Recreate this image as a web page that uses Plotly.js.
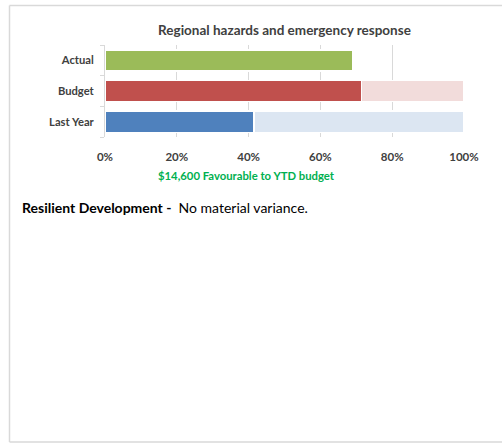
<!DOCTYPE html>
<html>
<head>
<meta charset="utf-8">
<script src="https://cdn.plot.ly/plotly-3.0.1.min.js"></script>
<style>
html,body{margin:0;padding:0;background:#fff;}
#chart{width:502px;height:444px;}
</style>
</head>
<body>
<div id="chart"></div>
<script>
// Data
const categories = ["Last Year", "Budget", "Actual"];
const filledValues = [41.5, 71.5, 69];
const remainderValues = [58.5, 28.5, 0];
const filledColors = ["#4F81BD", "#C0504D", "#9BBB59"];
const remainderColors = ["#DCE6F2", "#F2DCDB", "#FFFFFF"];
const xTickVals = [0, 20, 40, 60, 80, 100];
const xTickText = ["0%", "20%", "40%", "60%", "80%", "100%"];
const chartTitle = "Regional hazards and emergency response";
const varianceNote = "$14,600 Favourable to YTD budget";
const commentBold = "Resilient Development -";
const commentText = "No material variance.";

const W = 502, H = 444;
const M = {l: 105, r: 38, t: 45, b: 307};
const pw = W - M.l - M.r, ph = H - M.t - M.b;
const px = x => (x - M.l) / pw;
const py = y => (H - M.b - y) / ph;

const font = "Lato, 'Open Sans', sans-serif";

const traces = [
  {
    type: "bar", orientation: "h", y: categories, x: filledValues,
    marker: {color: filledColors, line: {color: "#FFFFFF", width: 1.5}},
    hoverinfo: "skip", showlegend: false
  },
  {
    type: "bar", orientation: "h", y: categories, x: remainderValues,
    marker: {color: remainderColors, line: {color: "#FFFFFF", width: 1.5}},
    hoverinfo: "skip", showlegend: false
  }
];

const grey = "#D9D9D9";
const layout = {
  width: W, height: H,
  margin: M,
  paper_bgcolor: "#FFFFFF", plot_bgcolor: "#FFFFFF",
  barmode: "stack", bargap: 0.31,
  showlegend: false,
  title: {
    text: "<b>" + chartTitle + "</b>",
    font: {family: font, size: 13.5, color: "#404040"},
    x: 0.5, xref: "paper", y: 1 - 30 / H, yref: "container", yanchor: "middle"
  },
  xaxis: {
    range: [0, 100], tickvals: xTickVals, ticktext: xTickText,
    showgrid: true, gridcolor: grey, gridwidth: 1,
    zeroline: false, showline: false, ticks: "",
    tickfont: {family: font, size: 11.5, color: "#404040", weight: "bold"},
    ticklabelstandoff: 11,
    fixedrange: true
  },
  yaxis: {
    type: "category", categoryorder: "array", categoryarray: categories,
    showline: true, linecolor: grey, linewidth: 1,
    ticks: "outside", tickson: "boundaries", ticklen: 4, tickcolor: grey,
    showgrid: false, zeroline: false,
    tickfont: {family: font, size: 11.2, color: "#404040", weight: "bold"},
    ticklabelstandoff: 8,
    fixedrange: true
  },
  annotations: [
    {
      text: "<b>" + varianceNote + "</b>", xref: "paper", yref: "paper",
      x: px(246), y: py(175), xanchor: "center", yanchor: "middle", showarrow: false,
      font: {family: font, size: 11.3, color: "#00B050"}
    },
    {
      text: "<b>" + commentBold + "</b>  " + commentText, xref: "paper", yref: "paper",
      x: px(20), y: py(207), xanchor: "left", yanchor: "middle", showarrow: false,
      font: {family: font, size: 14, color: "#000000"}
    }
  ],
  shapes: [
    {type: "line", xref: "paper", yref: "paper", x0: px(9.5), x1: px(502), y0: py(5.5), y1: py(5.5), line: {color: grey, width: 1.5}},
    {type: "line", xref: "paper", yref: "paper", x0: px(9.5), x1: px(9.5), y0: py(5.5), y1: py(442), line: {color: grey, width: 1.5}},
    {type: "line", xref: "paper", yref: "paper", x0: px(9.5), x1: px(502), y0: py(442), y1: py(442), line: {color: grey, width: 1.5}}
  ]
};

Plotly.newPlot("chart", traces, layout, {displayModeBar: false, staticPlot: true});
</script>
</body>
</html>
